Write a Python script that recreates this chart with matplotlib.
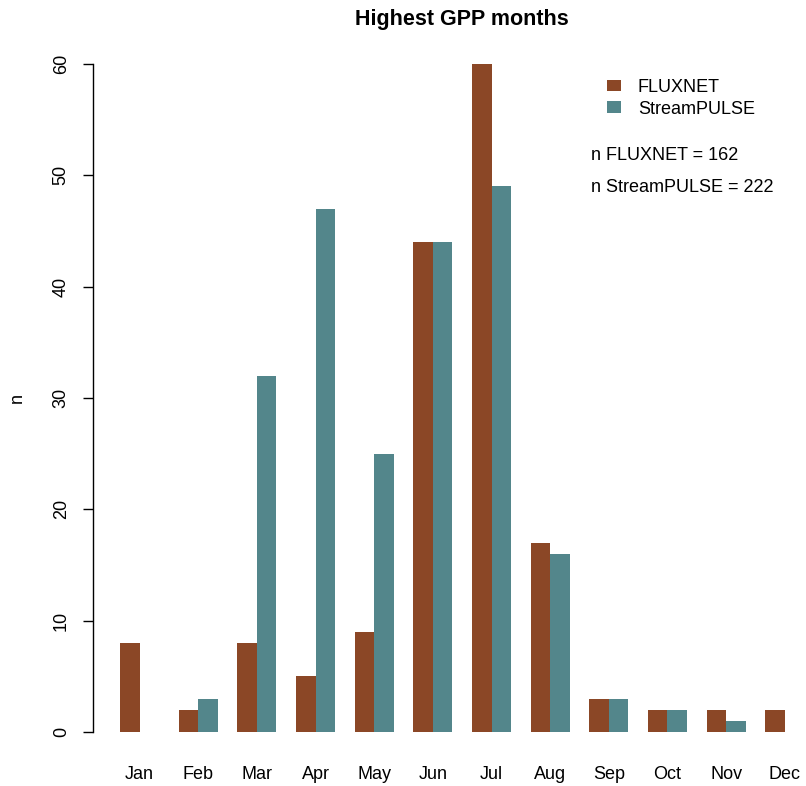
import numpy as np
import matplotlib
matplotlib.use("Agg")
import matplotlib.pyplot as plt
from matplotlib.patches import Patch

months = ["Jan", "Feb", "Mar", "Apr", "May", "Jun",
          "Jul", "Aug", "Sep", "Oct", "Nov", "Dec"]
fluxnet = [8, 2, 8, 5, 9, 44, 60, 17, 3, 2, 2, 2]
streampulse = [0, 3, 32, 47, 25, 44, 49, 16, 3, 2, 1, 0]
yticks = [0, 10, 20, 30, 40, 50, 60]

col_flux = "#8B4726"   # sienna4
col_sp = "#53868B"     # cadetblue4

plt.rcParams["font.family"] = ["Liberation Sans", "DejaVu Sans"]

W, H = 806, 786
fig = plt.figure(figsize=(W / 100, H / 100), dpi=100)

# axes placed in pixel terms (R-style barplot, plot region runs off right edge)
left_px, top_px, bottom_px = 92.7, 37.3, 758.7
ax = fig.add_axes([left_px / W, (H - bottom_px) / H,
                   (W - left_px) / W, (bottom_px - top_px) / H])

# beside=TRUE layout: bar width 1, one unit gap between groups
idx = np.arange(len(months))
x_flux = 1.5 + 3 * idx
x_sp = 2.5 + 3 * idx
ax.bar(x_flux, fluxnet, width=1, color=col_flux, edgecolor="none")
ax.bar(x_sp, streampulse, width=1, color=col_sp, edgecolor="none")

ax.set_xlim(-0.4, -0.4 + (W - left_px) / 19.55)
ax.set_ylim(-2.4, 62.4)

for s in ["top", "right", "bottom"]:
    ax.spines[s].set_visible(False)
ax.spines["left"].set_bounds(0, 60)
ax.spines["left"].set_linewidth(1.0)

ax.set_yticks(yticks)
ax.set_yticklabels([str(v) for v in yticks], rotation=90, va="center")
ax.tick_params(axis="y", length=7.5, width=1.0, pad=9, labelsize=13)

ax.set_xticks(2 + 3 * idx)
ax.set_xticklabels(months)
ax.tick_params(axis="x", length=0, pad=5, labelsize=13)

fig.text(462 / W, 1 - 20 / H, "Highest GPP months", ha="center", va="center",
         fontsize=15.5, fontweight="bold")
fig.text(17 / W, 1 - 398 / H, "n", ha="center", va="center", rotation=90,
         fontsize=13)

handles = [Patch(facecolor=col_flux, edgecolor="none", label="FLUXNET"),
           Patch(facecolor=col_sp, edgecolor="none", label="StreamPULSE")]
fig.legend(handles=handles, loc="upper left",
           bbox_to_anchor=(598 / W, 1 - 70 / H), frameon=False,
           fontsize=13, handlelength=0.75, handleheight=0.6,
           handletextpad=0.95, labelspacing=0.25, borderpad=0)

fig.text(591 / W, 1 - 155 / H, "n FLUXNET = " + str(sum(fluxnet)),
         ha="left", va="center", fontsize=13)
fig.text(591 / W, 1 - 187 / H, "n StreamPULSE = " + str(sum(streampulse)),
         ha="left", va="center", fontsize=13)

fig.savefig("out.png", dpi=100)
